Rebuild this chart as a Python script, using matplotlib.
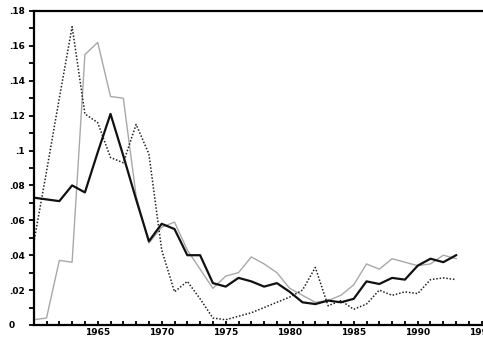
import matplotlib.pyplot as plt
from matplotlib.ticker import MultipleLocator

years = list(range(1960, 1994))

# thick black series
black = [0.073, 0.072, 0.071, 0.080, 0.076, 0.099, 0.121, 0.097, 0.072, 0.048,
         0.058, 0.055, 0.040, 0.040, 0.024, 0.022, 0.027, 0.025, 0.022, 0.024,
         0.019, 0.013, 0.012, 0.014, 0.013, 0.015, 0.025, 0.0235, 0.027, 0.026,
         0.034, 0.038, 0.036, 0.040]

# thin gray series
gray = [0.003, 0.004, 0.037, 0.036, 0.155, 0.162, 0.131, 0.130, 0.074, 0.047,
        0.056, 0.059, 0.043, 0.032, 0.021, 0.028, 0.030, 0.039, 0.035, 0.030,
        0.021, 0.017, 0.013, 0.014, 0.017, 0.023, 0.035, 0.032, 0.038, 0.036,
        0.034, 0.035, 0.040, 0.038]

# dotted series
dotted = [0.047, 0.088, 0.130, 0.171, 0.121, 0.116, 0.096, 0.093, 0.115, 0.098,
          0.043, 0.019, 0.025, 0.015, 0.004, 0.003, 0.005, 0.007, 0.010, 0.013,
          0.016, 0.020, 0.033, 0.011, 0.014, 0.009, 0.012, 0.020, 0.017, 0.019,
          0.018, 0.026, 0.027, 0.026]

ytick_vals = [0, 0.02, 0.04, 0.06, 0.08, 0.10, 0.12, 0.14, 0.16, 0.18]
ytick_labels = ['0   ', '.02', '.04', '.06', '.08', '.1', '.12', '.14', '.16', '.18']
xtick_vals = [1965, 1970, 1975, 1980, 1985, 1990, 1995]

fig = plt.figure(figsize=(4.83, 3.38), dpi=100)
ax = fig.add_axes([0.0698, 0.0385, 0.954, 0.929])

ax.plot(years, gray, color='#a8a8a8', lw=1.0)
ax.plot(years, dotted, color='#222222', lw=1.1, linestyle=(0, (1, 1.2)))
ax.plot(years, black, color='#111111', lw=1.6)

ax.set_xlim(1960, 1996)
ax.set_ylim(0, 0.18)

ax.set_yticks(ytick_vals)
ax.set_yticklabels(ytick_labels)
ax.yaxis.set_minor_locator(MultipleLocator(0.01))
ax.set_xticks(xtick_vals)
ax.set_xticklabels([str(y) for y in xtick_vals])
ax.xaxis.set_minor_locator(MultipleLocator(1))

ax.tick_params(axis='y', which='both', direction='out', length=3.5, width=1.3,
               pad=3, labelsize=6.5)
ax.tick_params(axis='x', which='both', direction='in', length=3, width=1.3,
               pad=2, labelsize=6.5)
for lbl in ax.get_xticklabels() + ax.get_yticklabels():
    lbl.set_fontweight('bold')

for side in ['left', 'bottom', 'top']:
    ax.spines[side].set_linewidth(1.6)
ax.spines['right'].set_visible(False)

fig.savefig('out.png', dpi=100)
